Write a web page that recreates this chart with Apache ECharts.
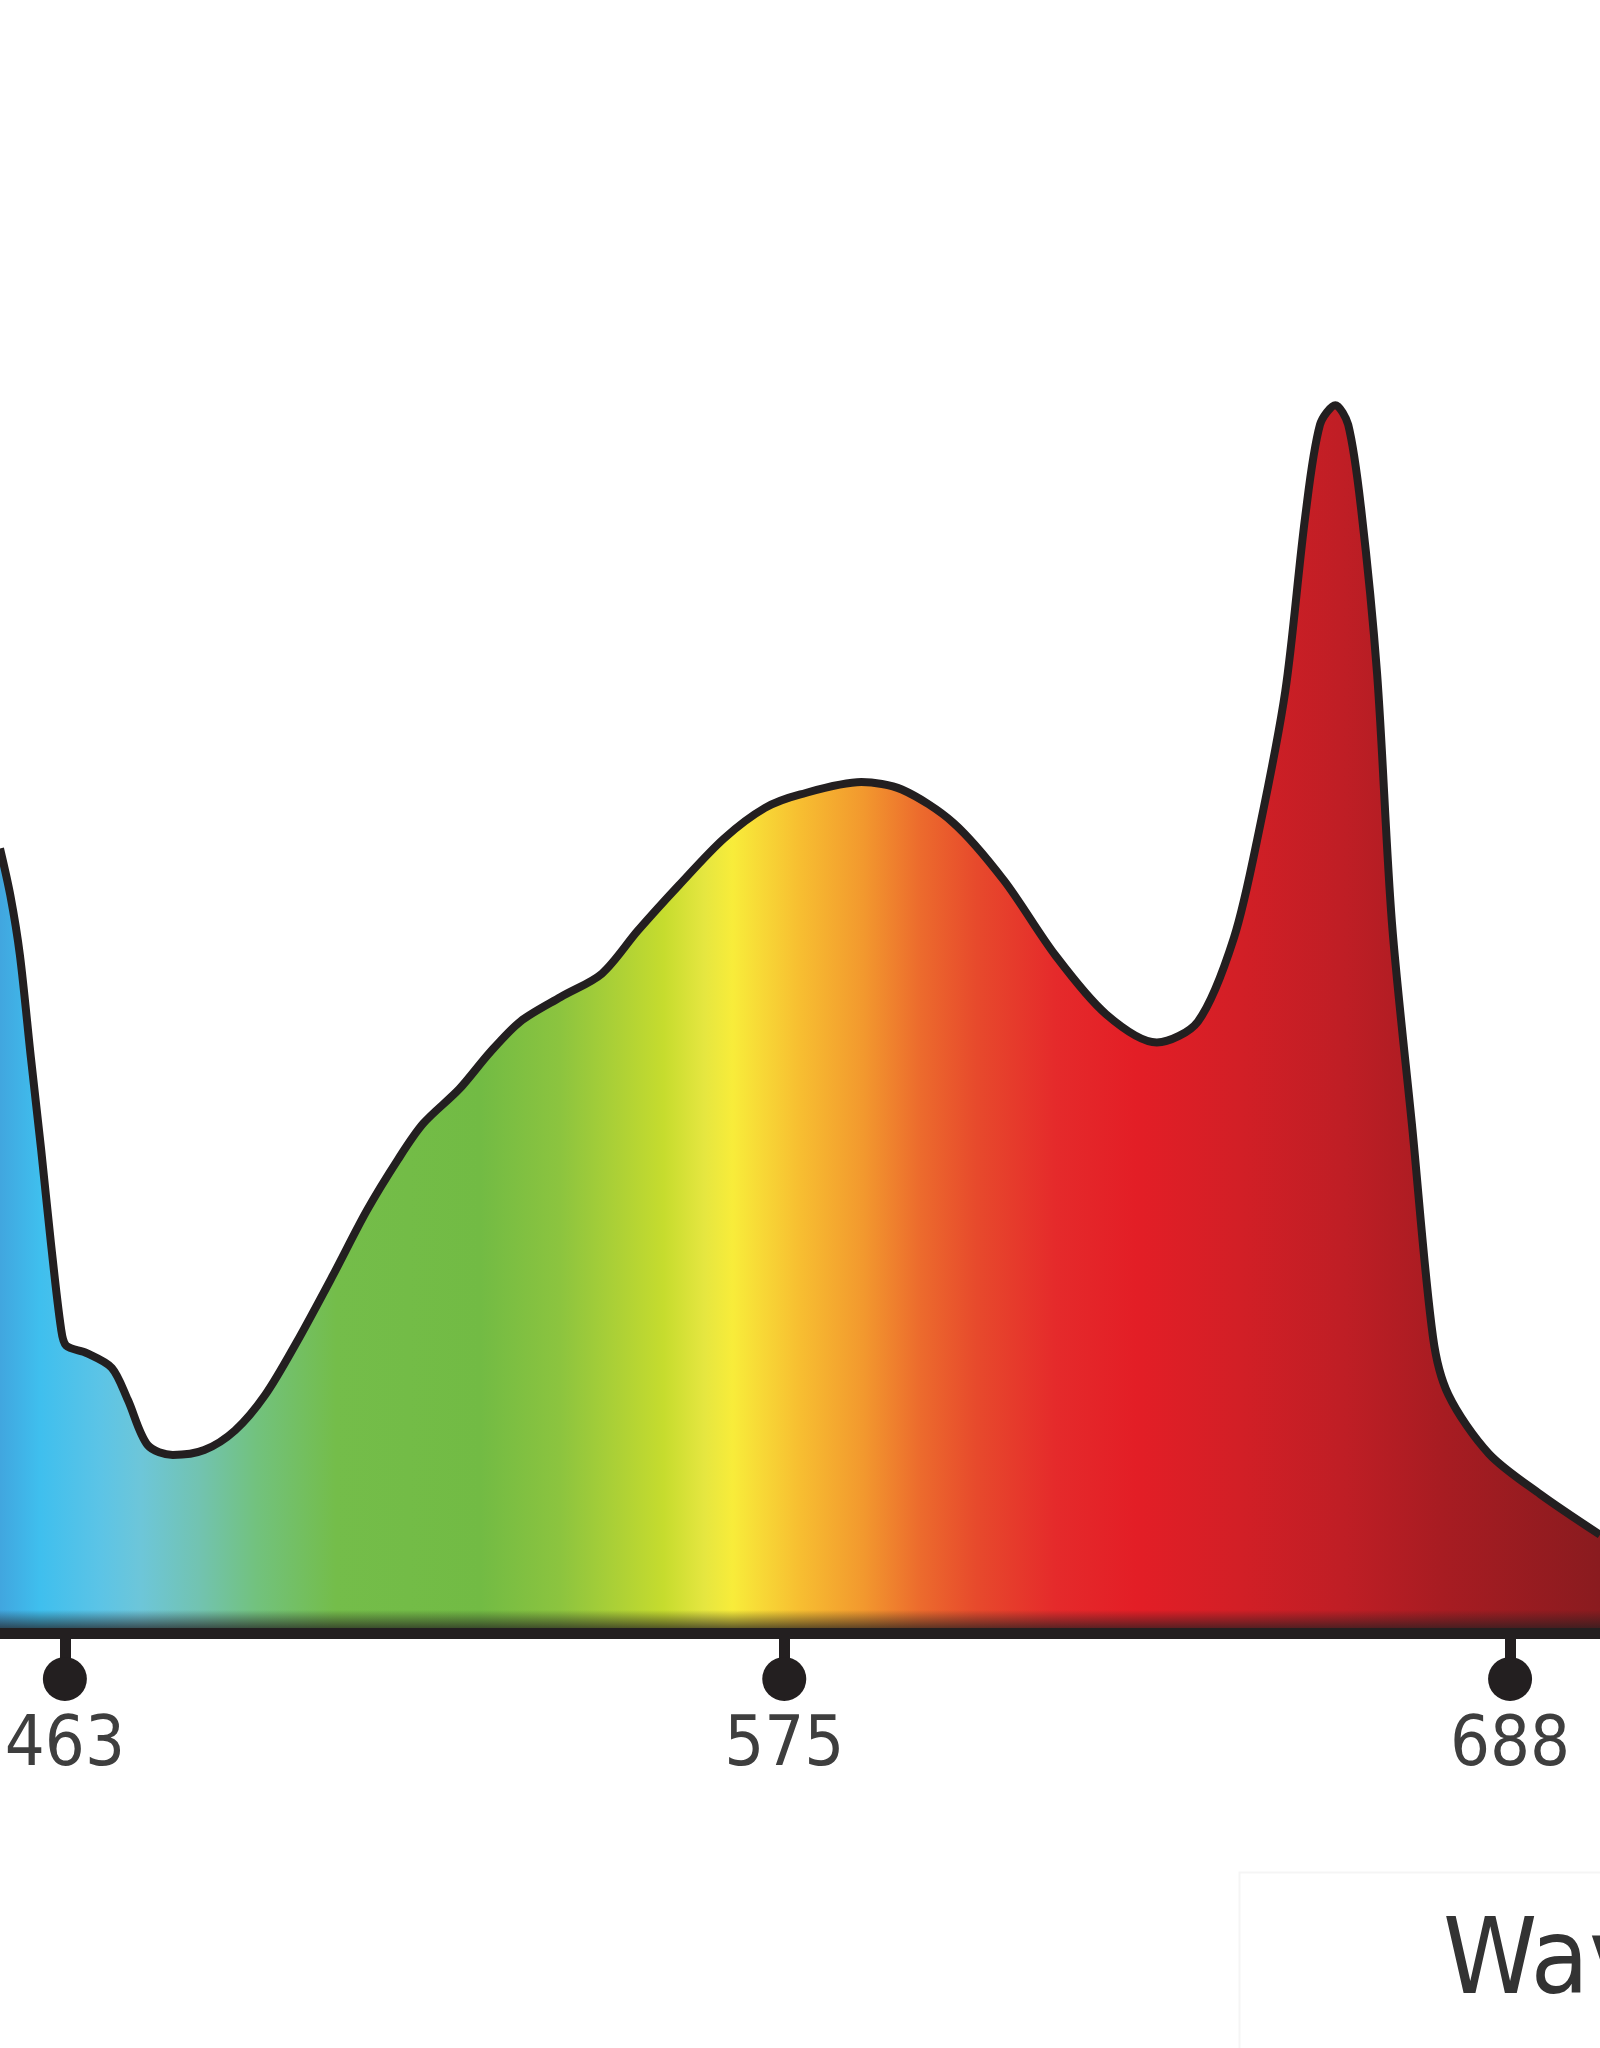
<!DOCTYPE html>
<html>
<head>
<meta charset="utf-8">
<style>
  html, body { margin: 0; padding: 0; background: #ffffff; }
  #chart { width: 1600px; height: 2048px; }
</style>
<script src="https://cdn.jsdelivr.net/npm/echarts@6/dist/echarts.min.js"></script>
</head>
<body>
<div id="chart"></div>
<script>
// Wavelength (nm) of each traced point
const wavelengths = [452.9, 454.5, 456.0, 457.7, 459.3, 460.8, 462.4, 463.2, 466.4, 470.3,
  472.8, 475.9, 479.8, 484.7, 489.5, 494.2, 499.0, 504.6, 510.0, 514.9,
  518.8, 524.4, 529.2, 533.9, 540.2, 546.6, 552.2, 558.6, 565.6, 572.0,
  577.5, 587.0, 593.3, 601.3, 609.2, 617.2, 625.1, 633.0, 639.4, 645.0,
  648.9, 653.0, 656.1, 658.4, 660.8, 662.8, 664.8, 667.3, 669.6, 672.8,
  676.0, 678.4, 684.7, 692.7, 702.0];
// Relative intensity (peak = 100)
const intensity = [63.9, 60.1, 55.2, 46.9, 39.4, 31.9, 24.8, 23.4, 22.8, 21.6,
  19.0, 15.3, 14.5, 14.9, 16.5, 19.4, 23.6, 29.0, 34.4, 38.6,
  41.5, 44.3, 47.3, 49.8, 51.8, 53.7, 57.2, 60.9, 64.7, 67.2,
  68.3, 69.3, 68.7, 66.0, 61.3, 55.2, 50.4, 48.1, 49.8, 56.6,
  65.3, 76.7, 90.9, 98.4, 100.0, 98.4, 91.6, 78.1, 57.9, 41.0,
  24.1, 19.4, 14.6, 11.3, 8.0];
// Tick labels on the wavelength axis
const tickValues = [463, 575, 688];
const axisName = 'Wavelength (nm)';

const spectrumData = wavelengths.map((w, i) => [w, intensity[i]]);

const spectrumStops = [
  [0.000, '#41a6df'], [0.025, '#3fbfee'], [0.063, '#5cc4e6'], [0.088, '#6dc6d9'],
  [0.125, '#72c3b0'], [0.160, '#72c27e'], [0.210, '#74bd4a'], [0.300, '#72bb44'],
  [0.350, '#8cc43f'], [0.390, '#b0d235'], [0.415, '#c6dc2e'], [0.440, '#e5e640'],
  [0.458, '#f8ec3a'], [0.500, '#f7be31'], [0.540, '#f2982e'], [0.575, '#ec6b2d'],
  [0.610, '#e74a2c'], [0.660, '#e52a2b'], [0.710, '#e31e26'], [0.775, '#d21f26'],
  [0.840, '#bf1e25'], [0.900, '#a81c22'], [1.000, '#8a1b1f']
];

const chart = echarts.init(document.getElementById('chart'), null, { renderer: 'canvas' });

const labelFont = "'Liberation Sans Narrow', 'DejaVu Sans Condensed', 'Roboto Condensed', sans-serif";

chart.setOption({
  backgroundColor: '#ffffff',
  animation: false,
  grid: { left: 0, right: 0, top: 0, bottom: 415, containLabel: false },
  xAxis: {
    type: 'value',
    min: 452.9,
    max: 702.0,
    z: 10,
    splitLine: { show: false },
    axisLine: { show: true, onZero: false, lineStyle: { color: '#231f20', width: 11 } },
    axisTick: {
      show: true,
      customValues: tickValues,
      length: 32,
      lineStyle: { color: '#231f20', width: 11 }
    },
    axisLabel: {
      show: true,
      customValues: tickValues,
      margin: 24,
      formatter: v => '{dot|}\n{num|' + v + '}',
      rich: {
        dot: { width: 44, height: 44, borderRadius: 22, backgroundColor: '#231f20', align: 'center' },
        num: {
          fontFamily: labelFont, fontSize: 70, lineHeight: 72, color: '#3e3e3e',
          padding: [20, 0, 0, 0], align: 'center'
        }
      }
    }
  },
  yAxis: {
    type: 'value',
    min: 0,
    max: 133,
    show: false
  },
  series: [
    {
      type: 'line',
      data: spectrumData,
      smooth: 0.3,
      showSymbol: false,
      lineStyle: { color: '#231f20', width: 8, join: 'round', cap: 'butt' },
      areaStyle: {
        opacity: 1,
        color: {
          type: 'linear', x: 0, y: 0, x2: 1600, y2: 0, global: true,
          colorStops: spectrumStops.map(s => ({ offset: s[0], color: s[1] }))
        }
      },
      z: 2
    },
    {
      type: 'line',
      data: spectrumData,
      smooth: 0.3,
      showSymbol: false,
      silent: true,
      lineStyle: { width: 0, opacity: 0 },
      areaStyle: {
        opacity: 1,
        color: {
          type: 'linear', x: 0, y: 1610, x2: 0, y2: 1628, global: true,
          colorStops: [
            { offset: 0, color: 'rgba(35,31,32,0)' },
            { offset: 1, color: 'rgba(35,31,32,0.7)' }
          ]
        }
      },
      z: 3
    }
  ],
  graphic: [
    {
      type: 'rect',
      left: 1237, top: 1870,
      shape: { width: 420, height: 240 },
      style: { fill: 'none', stroke: '#f5f5f5', lineWidth: 2 },
      silent: true
    },
    {
      type: 'text',
      left: 1443, top: 1912,
      style: {
        text: axisName,
        fontFamily: labelFont,
        fontSize: 106,
        fill: '#333333'
      },
      silent: true
    }
  ]
});
</script>
</body>
</html>
